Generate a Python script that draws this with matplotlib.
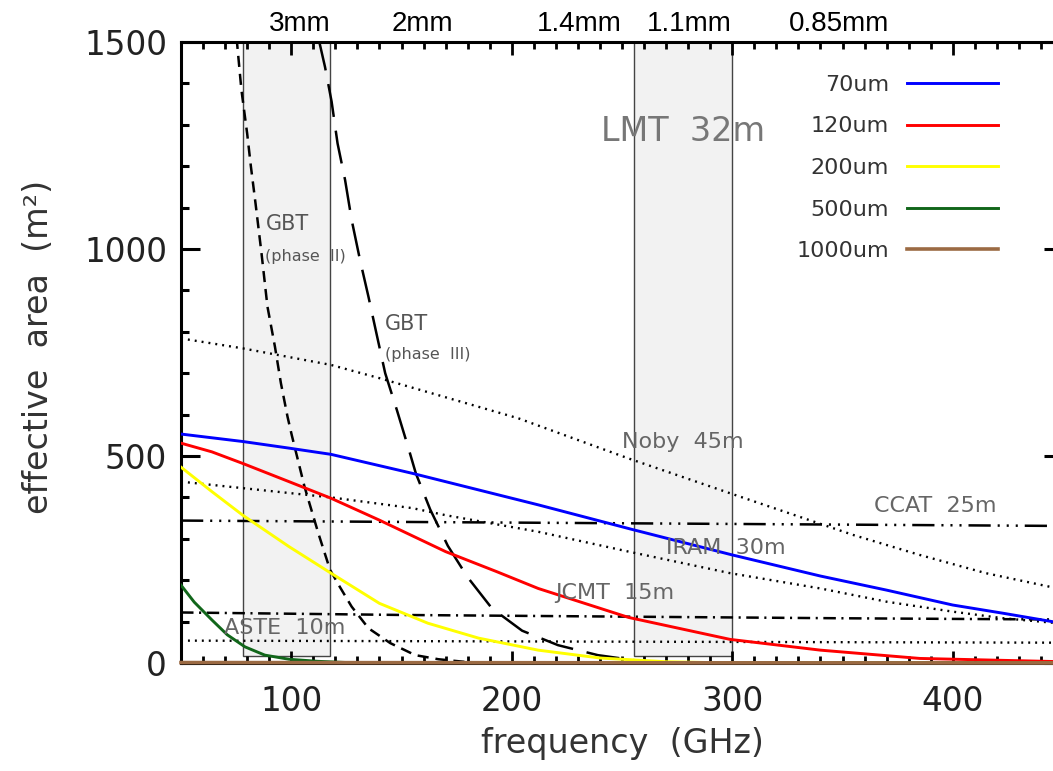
import numpy as np
import matplotlib.pyplot as plt
from matplotlib.patches import Rectangle
from matplotlib.ticker import MultipleLocator

plt.rcParams['font.family'] = ['DejaVu Sans']
plt.rcParams['lines.scale_dashes'] = False

# LMT 32m effective area vs surface rms
blue_f = [50, 78, 99, 118, 155, 185, 212, 255, 300, 340, 370, 400, 423, 445, 450]
blue_a = [553, 535, 519, 504, 458, 418, 382, 322, 261, 210, 176, 140, 120, 100, 96]
red_f = [50, 64, 78, 99, 118, 140, 170, 193, 212, 253, 299, 340, 385, 450]
red_a = [531, 510, 482, 438, 398, 345, 269, 221, 180, 110, 57, 31, 11, 3]
yellow_f = [50, 64, 78, 99, 118, 140, 162, 185, 212, 240, 270, 300, 450]
yellow_a = [473, 414, 357, 281, 217, 144, 96, 60, 31, 12, 3, 0, 0]
green_f = [50, 56, 64, 71, 79, 88, 99, 112, 130, 450]
green_a = [188, 147, 104, 68, 39, 19, 9, 4, 0, 0]
brown_f = [50, 450]
brown_a = [1, 0]

surface_labels = ['70um', '120um', '200um', '500um', '1000um']

# other telescopes
gbt2_f = [75.2, 77.4, 80, 81.7, 83.8, 86.5, 89.2, 92.6, 95.3, 98.3, 100.2, 106, 112.3,
          117.6, 122, 127.4, 135, 144.9, 156.2, 166.8, 180, 200, 450]
gbt2_a = [1510, 1384, 1279, 1199, 1110, 990, 861, 764, 676, 595, 551, 426, 313,
          225, 184, 136, 84, 48, 19, 9, 2, 0, 0]
gbt3_f = [112.3, 115.3, 118.3, 121, 124.4, 127.4, 131.2, 135, 138.8, 142.6, 147.9,
          153.2, 156.5, 163, 171, 180, 191, 204.7, 221, 239, 255, 270, 450]
gbt3_a = [1510, 1440, 1356, 1255, 1167, 1070, 973, 885, 792, 700, 611,
          518, 458, 371, 283, 207, 132, 78, 43, 19, 7, 0, 0]
noby_f = [50, 78, 118, 140, 179, 203, 253, 299, 355, 385, 415, 445, 450]
noby_a = [784, 760, 720, 688, 628, 591, 494, 410, 309, 261, 217, 183, 177]
iram_f = [50, 118, 155, 170, 212, 253, 299, 340, 370, 400, 423, 450]
iram_a = [438, 400, 374, 357, 317, 269, 217, 180, 148, 124, 108, 95]
aste_f = [50, 450]
aste_a = [54, 49]
ccat_f = [50, 450]
ccat_a = [344, 331]
jcmt_f = [50, 150, 350, 450]
jcmt_a = [122, 116, 108, 105]

# atmospheric windows (GHz)
band_lo = [78.2, 255.5]
band_hi = [117.6, 300]

wave_labels = ['3mm', '2mm', '1.4mm', '1.1mm', '0.85mm']
wave_pos = [103.7, 159.6, 230.5, 280.5, 348.6]

fig = plt.figure(figsize=(10.53, 7.71), dpi=100)
ax = fig.add_axes([0.1719, 0.1401, 0.8376, 0.8054])

for lo, hi in zip(band_lo, band_hi):
    ax.add_patch(Rectangle((lo, 16), hi - lo, 1500, facecolor='#f2f2f2',
                           edgecolor='#444444', lw=1.0, zorder=1))

dotted = (0, (1.4, 3.6))
ax.plot(noby_f, noby_a, color='k', lw=1.7, ls=dotted, zorder=3)
ax.plot(iram_f, iram_a, color='k', lw=1.7, ls=dotted, zorder=3)
ax.plot(aste_f, aste_a, color='k', lw=1.7, ls=dotted, zorder=3)
ax.plot(ccat_f, ccat_a, color='k', lw=1.8, ls=(0, (16, 5, 1.5, 5, 1.5, 5, 1.5, 5)), zorder=3)
ax.plot(jcmt_f, jcmt_a, color='k', lw=1.8, ls=(0, (9, 4, 1.5, 4)), zorder=3)
ax.plot(gbt2_f, gbt2_a, color='k', lw=1.8, ls=(0, (8, 5)), zorder=3)
ax.plot(gbt3_f, gbt3_a, color='k', lw=1.8, ls=(0, (24, 10)), zorder=3)

l1, = ax.plot(blue_f, blue_a, color='#0000ff', lw=2.1, zorder=4)
l2, = ax.plot(red_f, red_a, color='#ff0000', lw=2.1, zorder=4)
l3, = ax.plot(yellow_f, yellow_a, color='#ffff00', lw=2.1, zorder=4)
l4, = ax.plot(green_f, green_a, color='#11661a', lw=2.1, zorder=4)
l5, = ax.plot(brown_f, brown_a, color='#9b6a43', lw=2.6, zorder=6, clip_on=False)

leg = ax.legend([l1, l2, l3, l4, l5], surface_labels, loc='upper right',
                bbox_to_anchor=(0.926, 0.947), frameon=False, markerfirst=False,
                handlelength=4.1, handletextpad=0.8, labelspacing=0.97,
                fontsize=16, borderpad=0, borderaxespad=0)
for t in leg.get_texts():
    t.set_color('#333333')

gray = '#666666'
ax.text(88.3, 1060, 'GBT', fontsize=15, color='#555555', va='center', zorder=7)
ax.text(88.3, 983, '(phase  II)', fontsize=11.5, color='#555555', va='center', zorder=7)
ax.text(142.6, 820, 'GBT', fontsize=15, color='#555555', va='center', zorder=7)
ax.text(142.6, 744, '(phase  III)', fontsize=11.5, color='#555555', va='center', zorder=7)
ax.text(240.3, 1283, 'LMT  32m', fontsize=24, color='#777777', va='center', zorder=7)
ax.text(250, 535, 'Noby  45m', fontsize=16, color=gray, va='center', zorder=7)
ax.text(364.5, 379, 'CCAT  25m', fontsize=16, color=gray, va='center', zorder=7)
ax.text(270, 277, 'IRAM  30m', fontsize=16, color=gray, va='center', zorder=7)
ax.text(219.5, 168, 'JCMT  15m', fontsize=16, color=gray, va='center', zorder=7)
ax.text(69.5, 84, 'ASTE  10m', fontsize=16, color=gray, va='center', zorder=7)

for lab, pos in zip(wave_labels, wave_pos):
    ax.text(pos, 1.0177, lab, transform=ax.get_xaxis_transform(), ha='center',
            va='baseline', fontsize=20, family='Liberation Sans', color='k')

ax.set_xlim(50, 450)
ax.set_ylim(0, 1500)
ax.xaxis.set_major_locator(MultipleLocator(100))
ax.xaxis.set_minor_locator(MultipleLocator(10))
ax.yaxis.set_major_locator(MultipleLocator(500))
ax.yaxis.set_minor_locator(MultipleLocator(100))
ax.tick_params(axis='x', which='major', direction='in', length=9, width=2,
               top=True, bottom=True, labelsize=23.5, pad=16, labelcolor='#222222')
ax.tick_params(axis='x', which='minor', direction='in', length=5, width=2,
               top=True, bottom=True)
ax.tick_params(axis='y', which='major', direction='in', length=14, width=2.2,
               left=True, right=True, labelsize=23.5, pad=10, labelcolor='#222222')
ax.tick_params(axis='y', which='minor', direction='in', length=6, width=2.2,
               left=True, right=True)
for s in ax.spines.values():
    s.set_linewidth(2.2)

ax.set_xlabel('frequency  (GHz)', fontsize=24, color='#333333')
ax.set_ylabel('effective  area  (m²)', fontsize=24, color='#333333')
ax.xaxis.set_label_coords(0.5, -0.103)
ax.yaxis.set_label_coords(-0.143, 0.509)

fig.savefig('out.png', dpi=100)
